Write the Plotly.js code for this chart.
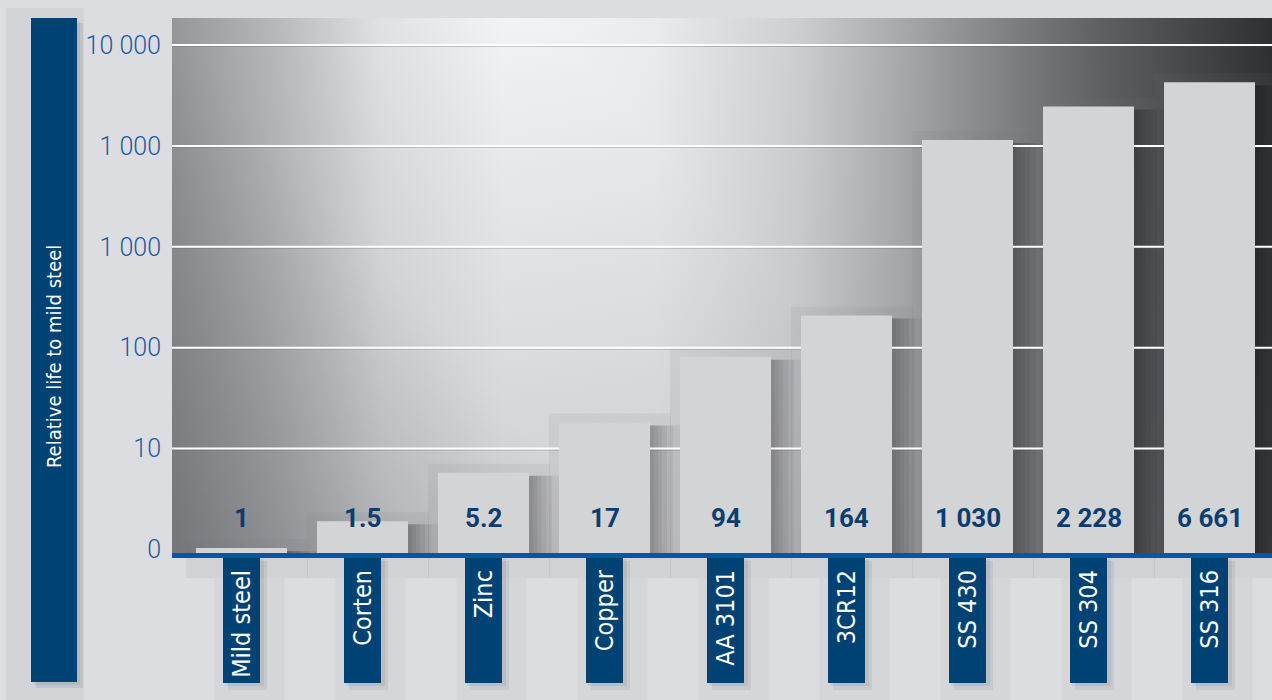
<!DOCTYPE html>
<html>
<head>
<meta charset="utf-8">
<script src="https://cdn.plot.ly/plotly-3.0.1.min.js"></script>
<style>
  html, body { margin: 0; padding: 0; background: #dcdde0; }
  #chart { width: 1272px; height: 700px; }
</style>
</head>
<body>
<div id="chart"></div>
<script>
// ---- data ----
const categories = ['Mild steel', 'Corten', 'Zinc', 'Copper', 'AA 3101', '3CR12', 'SS 430', 'SS 304', 'SS 316'];
const valueLabels = ['1', '1.5', '5.2', '17', '94', '164', '1 030', '2 228', '6 661'];
// bar heights on the chart's own (tick-step) scale, as drawn
const barHeights = [0.015, 0.28, 0.76, 1.26, 1.91, 2.32, 4.06, 4.39, 4.63];
const tickPositions = [0, 1, 2, 3, 4, 5];
const tickLabels = ['0', '10', '100', '1 000', '1 000', '10 000'];
const yTitle = 'Relative life to mild steel';

// ---- geometry ----
const W = 1272, H = 700;
const M = { l: 172, r: 0, t: 18, b: 145 };
const PW = W - M.l - M.r, PH = H - M.t - M.b;
const XMIN = -0.5744, XMAX = 8.5165;
const YMIN = -0.0545, YMAX = 5.268;
const BARW = 0.752;
const PXPERCAT = PW / (XMAX - XMIN);

const px2paperX = p => (p - M.l) / PW;
const px2paperY = p => (H - M.b - p) / PH;
const catPx = i => M.l + (i - XMIN) * PXPERCAT;
const valPy = v => (H - M.b) - (v - YMIN) / (YMAX - YMIN) * PH;

const NARROW = '"DejaVu Sans Condensed", "DejaVu Sans", sans-serif';
const LIGHT = 'Roboto, "DejaVu Sans Condensed", sans-serif';

// ---- metallic background image ----
function metalImage() {
  const c = document.createElement('canvas');
  c.width = PW; c.height = PH;
  const g = c.getContext('2d');
  const lg = g.createLinearGradient(0, 0, PW, 0);
  lg.addColorStop(0.00, '#a0a1a4');
  lg.addColorStop(0.09, '#c0c1c4');
  lg.addColorStop(0.19, '#e9eaec');
  lg.addColorStop(0.30, '#f4f5f7');
  lg.addColorStop(0.44, '#eaebed');
  lg.addColorStop(0.57, '#cdced1');
  lg.addColorStop(0.66, '#a9aaad');
  lg.addColorStop(0.75, '#838487');
  lg.addColorStop(0.84, '#606164');
  lg.addColorStop(1.00, '#2e2f31');
  g.fillStyle = lg; g.fillRect(0, 0, PW, PH);
  // darken lower-left
  const d1 = g.createLinearGradient(0, PH, 480, 120);
  d1.addColorStop(0, 'rgba(55,56,60,0.42)');
  d1.addColorStop(0.55, 'rgba(55,56,60,0.10)');
  d1.addColorStop(1, 'rgba(55,56,60,0)');
  g.fillStyle = d1; g.fillRect(0, 0, PW, PH);
  // soften the bright band towards the bottom
  const d2 = g.createLinearGradient(0, 0, 0, PH);
  d2.addColorStop(0, 'rgba(120,121,125,0)');
  d2.addColorStop(1, 'rgba(120,121,125,0.12)');
  g.fillStyle = d2; g.fillRect(0, 0, PW, PH);
  return c.toDataURL('image/png');
}

// ---- shapes ----
const shapes = [];
const rectPaper = (x0, y0, x1, y1, fill, layer) => shapes.push({
  type: 'rect', xref: 'paper', yref: 'paper', layer: layer || 'below',
  x0: px2paperX(x0), x1: px2paperX(x1), y0: px2paperY(y1), y1: px2paperY(y0),
  fillcolor: fill, line: { width: 0 }
});

// page columns
rectPaper(6, 8, 84, 700, '#d3d4d7');
categories.forEach((c, i) => {
  const cx = catPx(i);
  rectPaper(cx - 27, 578, cx + 43, 700, 'rgba(0,0,0,0.03)');
});
// translucent halo boxes around the bars
barHeights.forEach((h, i) => {
  const cx = catPx(i), hw = BARW / 2 * PXPERCAT;
  rectPaper(cx - hw - 10, valPy(h) - 9, cx + hw + 21, 578, 'rgba(120,121,126,0.10)');
});
// title box with shadow
rectPaper(36, 23, 83, 688, 'rgba(0,0,0,0.08)');
rectPaper(34, 21, 80, 685, 'rgba(0,0,0,0.06)');
rectPaper(31, 18, 77, 682, '#004273');
// label boxes with shadow
categories.forEach((c, i) => {
  const cx = catPx(i);
  rectPaper(cx - 18.5 + 5, 561, cx + 18.5 + 7, 690, 'rgba(0,0,0,0.06)');
  rectPaper(cx - 18.5 + 2, 559, cx + 18.5 + 4, 686, 'rgba(0,0,0,0.06)');
  rectPaper(cx - 18.5, 556, cx + 18.5, 683, '#004273');
});
// bar right-hand soft shadows (inside the plot)
barHeights.forEach((h, i) => {
  [4, 8, 12, 17, 23, 30].forEach(w => {
    shapes.push({
      type: 'rect', xref: 'x', yref: 'y', layer: 'below',
      x0: i + BARW / 2, x1: i + BARW / 2 + w / PXPERCAT,
      y0: YMIN, y1: h - 0.03,
      fillcolor: 'rgba(0,0,0,0.05)', line: { width: 0 }
    });
  });
});
// gridlines (none at zero)
tickPositions.slice(1).forEach(t => {
  shapes.push({
    type: 'line', xref: 'x', yref: 'y', layer: 'below',
    x0: XMIN, x1: XMAX, y0: t - 0.014, y1: t - 0.014,
    line: { color: 'rgba(90,90,95,0.30)', width: 1 }
  });
  shapes.push({
    type: 'line', xref: 'x', yref: 'y', layer: 'below',
    x0: XMIN, x1: XMAX, y0: t, y1: t,
    line: { color: '#ffffff', width: 2 }
  });
});
// blue baseline
shapes.push({
  type: 'line', xref: 'paper', yref: 'paper', layer: 'above',
  x0: 0, x1: 1, y0: px2paperY(555.5), y1: px2paperY(555.5),
  line: { color: '#0656a6', width: 5 }
});

// ---- annotations ----
const annotations = categories.map((c, i) => ({
  x: i, y: 0.31, xref: 'x', yref: 'y', text: valueLabels[i],
  showarrow: false, xanchor: 'center', yanchor: 'middle',
  font: { family: 'Roboto, "DejaVu Sans Condensed", sans-serif', size: 26, weight: 700, color: '#0b3d6e' }
}));
annotations.push({
  xref: 'paper', yref: 'paper', x: px2paperX(54), y: px2paperY(357),
  text: yTitle, textangle: -90, showarrow: false,
  xanchor: 'center', yanchor: 'middle',
  font: { family: NARROW, size: 20, color: '#ffffff' }
});

const trace = {
  type: 'bar', x: categories.map((c, i) => i), y: barHeights.map(h => h - YMIN), base: YMIN,
  width: BARW, marker: { color: '#d3d4d6', line: { width: 0 } },
  hoverinfo: 'skip'
};

const layout = {
  width: W, height: H, margin: M,
  paper_bgcolor: '#dcdde0', plot_bgcolor: 'rgba(0,0,0,0)',
  showlegend: false,
  xaxis: {
    range: [XMIN, XMAX], tickvals: categories.map((c, i) => i), ticktext: categories,
    tickangle: -90, showgrid: false, zeroline: false, showline: false, ticks: '',
    ticklabelstandoff: 9,
    tickfont: { family: NARROW, size: 25, color: '#ffffff' }
  },
  yaxis: {
    range: [YMIN, YMAX], tickvals: tickPositions, ticktext: tickLabels,
    showgrid: false, zeroline: false, showline: false, ticks: '',
    ticklabelstandoff: 10,
    tickfont: { family: LIGHT, size: 25, weight: 300, color: '#1b5ba6' }
  },
  images: [{
    source: metalImage(), xref: 'paper', yref: 'paper', x: 0, y: 1, sizex: 1, sizey: 1,
    xanchor: 'left', yanchor: 'top', sizing: 'stretch', layer: 'below'
  }],
  shapes: shapes,
  annotations: annotations
};

Plotly.newPlot('chart', [trace], layout, { displayModeBar: false, staticPlot: true });
</script>
</body>
</html>
